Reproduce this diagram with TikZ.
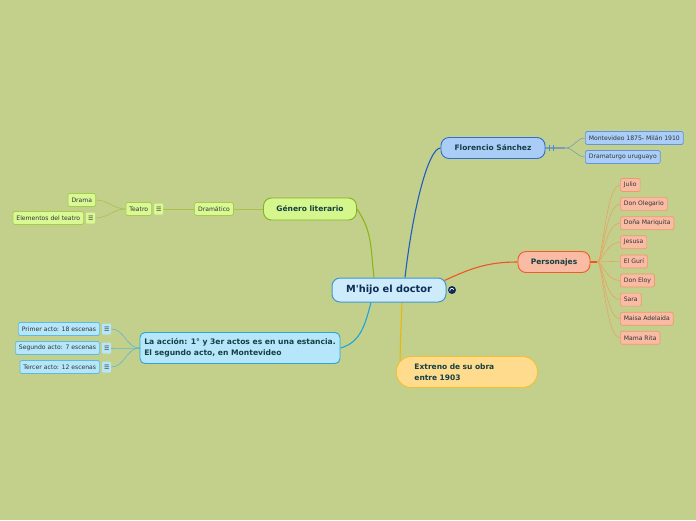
\documentclass[tikz,border=0pt]{standalone}
\usepackage{fontspec}
\setmainfont{DejaVu Sans}[Ligatures=TeXOff]
\usepackage{xcolor}
\usetikzlibrary{positioning,backgrounds}
\definecolor{paper}{HTML}{C3D08B}
\definecolor{ink}{HTML}{333333}
\definecolor{deep}{HTML}{143F45}
\definecolor{navy}{HTML}{0D2C57}
\definecolor{rootfill}{HTML}{CDEBFA}
\definecolor{rootline}{HTML}{3D98CF}
\definecolor{florfill}{HTML}{A9CDF7}
\definecolor{florline}{HTML}{2F6ED2}
\definecolor{florwire}{HTML}{1F5CC4}
\definecolor{florleaf}{HTML}{AACEF7}
\definecolor{florleafline}{HTML}{6393D8}
\definecolor{florstub}{HTML}{7C9CB4}
\definecolor{florfold}{HTML}{3B8FE0}
\definecolor{persfill}{HTML}{F9BBA4}
\definecolor{persline}{HTML}{EF5B2B}
\definecolor{perswire}{HTML}{EF5427}
\definecolor{persleafline}{HTML}{EC9A6E}
\definecolor{persstub}{HTML}{E6A466}
\definecolor{genfill}{HTML}{D5F68D}
\definecolor{genline}{HTML}{80B322}
\definecolor{genwire}{HTML}{8AB51C}
\definecolor{genleaf}{HTML}{D9F995}
\definecolor{genleafline}{HTML}{A6CA4C}
\definecolor{genstub}{HTML}{A5C445}
\definecolor{accfill}{HTML}{B5E6FA}
\definecolor{accline}{HTML}{2AA6DA}
\definecolor{accwire}{HTML}{1BA4DD}
\definecolor{accleafline}{HTML}{5DBBE0}
\definecolor{accstub}{HTML}{5EB8CF}
\definecolor{extfill}{HTML}{FFDB8E}
\definecolor{extline}{HTML}{F4BF33}
\definecolor{extwire}{HTML}{E9B70C}

\begin{document}
\begin{tikzpicture}[
    x=1pt, y=-1pt,
    font=\fontsize{6.1}{7}\selectfont, text=ink,
    rootbox/.style={draw=rootline, fill=rootfill, line width=1pt, rounded corners=8pt,
        text=navy, font=\fontsize{9.8}{11}\selectfont\bfseries,
        minimum width=114pt, minimum height=24pt},
    topicbox/.style={line width=0.9pt, rounded corners=8pt, text=deep,
        font=\fontsize{7.5}{9}\selectfont\bfseries, minimum height=21pt},
    leafbox/.style={line width=0.7pt, rounded corners=1.5pt, inner xsep=3.5pt,
        inner ysep=0pt, minimum height=13pt},
    notebox/.style={fill=#1, rounded corners=1pt, inner sep=0pt,
        minimum width=9pt, minimum height=11pt, font=\fontsize{6}{6}\selectfont},
    wire/.style={line width=1.1pt},
    twig/.style={line width=0.6pt}
]
% central topic
\node[rootbox] (root) at (389,290) {M'hijo el doctor};
\node[circle, fill=navy, inner sep=0pt, minimum size=8pt] (globe) at (452,290) {};
\draw[white, line width=0.7pt] (globe.center) ++(-2,1) arc[start angle=200, end angle=20, radius=2pt];

% Florencio Sanchez
\node[topicbox, fill=florfill, draw=florline, minimum width=104pt] (flor) at (493,148) {Florencio Sánchez};
\node[leafbox, fill=florleaf, draw=florleafline, anchor=west] (born) at (585,138) {Montevideo 1875- Milán 1910};
\node[leafbox, fill=florleaf, draw=florleafline, anchor=west] (trade) at (585,157) {Dramaturgo uruguayo};

% Personajes
\node[topicbox, fill=persfill, draw=persline, minimum width=72pt] (pers) at (554,262) {Personajes};
\foreach \who [count=\i] in {Julio,Don Olegario,Doña Mariquita,Jesusa,El Gurí,Don Eloy,Sara,Maisa Adelaida,Mama Rita}
    \node[leafbox, fill=persfill, draw=persleafline, anchor=west] (who\i) at (620,{185+19.1*(\i-1)}) {\who};

% Genero literario
\node[topicbox, fill=genfill, draw=genline, minimum width=93pt, minimum height=22pt] (gen) at (310,209) {Género literario};
\node[leafbox, fill=genleaf, draw=genleafline] (dram) at (214,209) {Dramático};
\node[leafbox, fill=genleaf, draw=genleafline, anchor=east] (teatro) at (152,209) {Teatro};
\node[notebox=genleaf, right=2pt of teatro] (teatronote) {☰};
\node[leafbox, fill=genleaf, draw=genleafline, anchor=east] (drama) at (96,200) {Drama};
\node[leafbox, fill=genleaf, draw=genleafline, anchor=east] (elem) at (84,218) {Elementos del teatro};
\node[notebox=genleaf, right=2pt of elem] (elemnote) {☰};

% La accion
\node[topicbox, fill=accfill, draw=accline, rounded corners=5pt, minimum width=200pt,
    minimum height=31pt, align=left, font=\fontsize{7.6}{10.5}\selectfont\bfseries] (acc) at (240,348)
    {La acción: 1° y 3er actos es en una estancia.\\El segundo acto, en Montevideo};
\foreach \txt [count=\i] in {Primer acto: 18 escenas,Segundo acto: 7 escenas,Tercer acto: 12 escenas} {
    \node[leafbox, fill=accfill, draw=accleafline, anchor=east] (act\i) at (100,{329+19*(\i-1)}) {\txt};
    \node[notebox=accfill, right=2pt of act\i] (actnote\i) {☰};
}

% Extreno
\node[topicbox, fill=extfill, draw=extline, rounded corners=15pt, minimum height=31pt,
    text width=105pt, inner xsep=18pt, align=left, anchor=west,
    font=\fontsize{7.5}{10.5}\selectfont\bfseries] (ext) at (396,372) {Extreno de su obra\\entre 1903};

\begin{scope}[on background layer]
\fill[paper] (0,0) rectangle (696,520);
% main branches
\draw[wire, florwire] ([xshift=16pt]root.north) .. controls ([xshift=24pt,yshift=70pt]root.north)
    and ([xshift=-12pt]flor.west) .. (flor.west);
\draw[wire, perswire] ([xshift=-2pt,yshift=-3pt]root.north east) to[out=25,in=180] (pers.west);
\draw[wire, genwire] ([xshift=-15pt]root.north) to[out=97,in=-55] (gen.east);
\draw[wire, accwire] ([xshift=-18pt]root.south) to[out=-105,in=15] (acc.east);
\draw[wire, extwire] ([xshift=13pt]root.south) to[out=-92,in=90] ([xshift=4pt]ext.west);
% Florencio
\coordinate (florhub) at ([xshift=20pt]flor.east);
\draw[line width=1.8pt, florstub] (flor.east) -- (florhub);
\draw[florfold, line width=0.8pt] ([xshift=4pt]flor.east) ++(0,-3) -- ++(0,6)
    ([xshift=8pt]flor.east) ++(0,-3) -- ++(0,6);
\draw[twig, florstub] (florhub) to[out=0,in=180] (born.west);
\draw[twig, florstub] (florhub) to[out=0,in=180] (trade.west);
% Personajes
\coordinate (pershub) at ([xshift=7pt]pers.east);
\draw[wire, perswire] (pers.east) -- (pershub);
\foreach \i in {1,...,9}
    \draw[twig, persstub] (pershub) .. controls ([xshift=5pt]pershub) and ([xshift=-14pt]who\i.west) .. (who\i.west);
% Genero literario
\draw[twig, genstub] (gen.west) -- (dram.east);
\draw[twig, genstub] (dram.west) -- (teatronote.east);
\draw[twig, genstub] (teatro.west) to[out=180,in=0] (drama.east);
\draw[twig, genstub] (teatro.west) to[out=180,in=0] (elemnote.east);
% La accion
\foreach \i in {1,2,3}
    \draw[twig, accstub] (acc.west) to[out=180,in=0] (actnote\i.east);
\end{scope}
\end{tikzpicture}
\end{document}
